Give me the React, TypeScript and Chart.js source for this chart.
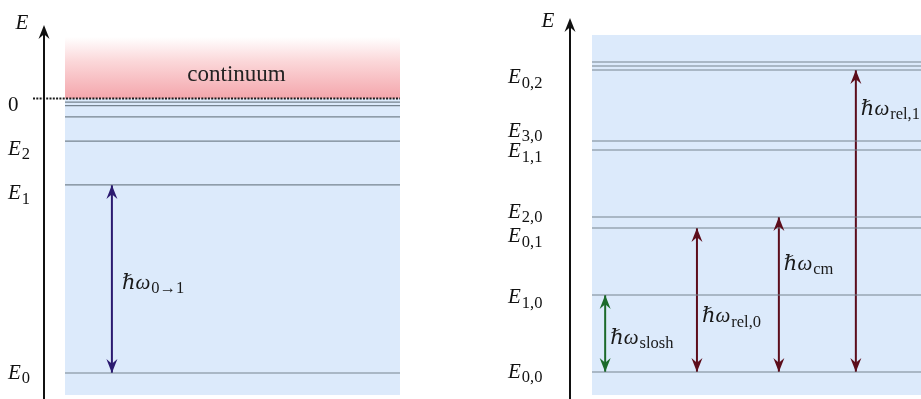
import React, { useEffect, useRef } from 'react';
import { Chart, registerables } from 'chart.js';

Chart.register(...registerables);

// ---------- Left panel (bound states + continuum) ----------
const leftLevels = [-1.0, -0.315, -0.155, -0.067, -0.026, -0.013];
const leftTickMain = ['0', 'E', 'E', 'E'];
const leftTickSub = ['', '2', '1', '0'];
const leftTickAt = [-0.02, -0.18, -0.341, -0.996];
const leftArrowX = [0.14];
const leftArrowFrom = [-1.0];
const leftArrowTo = [-0.315];
const leftArrowSub = ['0→1'];
const leftArrowLabelAt = [-0.668];
const leftArrowColor = ['#2b1a70'];
const leftBand = [-1.08, 0.224];
const continuumLabel = 'continuum';
const continuumLabelAt = 0.085;

// ---------- Right panel (trap states) ----------
const rightLevels = [0, 1.0, 1.87, 2.013, 2.883, 3.0, 3.922, 3.974, 4.026];
const rightTickMain = ['E', 'E', 'E', 'E', 'E', 'E', 'E'];
const rightTickSub = ['0,2', '3,0', '1,1', '2,0', '0,1', '1,0', '0,0'];
const rightTickAt = [3.844, 3.149, 2.883, 2.097, 1.773, 0.981, 0.019];
const rightArrowX = [0.04, 0.319, 0.568, 0.802];
const rightArrowFrom = [0, 0, 0, 0];
const rightArrowTo = [1.0, 1.87, 2.013, 3.922];
const rightArrowSub = ['slosh', 'rel,0', 'cm', 'rel,1'];
const rightArrowLabelAt = [0.455, 0.74, 1.416, 3.43];
const rightArrowColor = ['#1b6a2a', '#5c0d1b', '#5c0d1b', '#5c0d1b'];
const rightBand = [-0.299, 4.377];

const SERIF = '"Liberation Serif", "DejaVu Serif", serif';
const LEVEL_COLOR = '#76838f';
const BAND_COLOR = '#dceafb';

type PanelCfg = {
  width: number;
  padding: { left: number; right: number; top: number; bottom: number };
  yMin: number;
  yMax: number;
  levels: number[];
  tickMain: string[];
  tickSub: string[];
  tickAt: number[];
  tickX: number;
  arrowX: number[];
  arrowFrom: number[];
  arrowTo: number[];
  arrowSub: string[];
  arrowLabelAt: number[];
  arrowColor: string[];
  arrowLabelGap: number;
  band: number[];
  axisGap: number;
  axisLabelDy: number;
  continuum: boolean;
};

function drawSym(ctx: CanvasRenderingContext2D, x: number, yMid: number, main: string, sub: string, italic: boolean, color: string) {
  ctx.fillStyle = color;
  ctx.textAlign = 'left';
  ctx.textBaseline = 'alphabetic';
  ctx.font = `${italic ? 'italic ' : ''}21px ${SERIF}`;
  const base = yMid + 7;
  ctx.fillText(main, x, base);
  const w = ctx.measureText(main).width;
  if (sub) {
    ctx.font = `16.5px ${SERIF}`;
    ctx.fillText(sub, x + w + 1, base + 4.5);
  }
}

function head(ctx: CanvasRenderingContext2D, x: number, y: number, up: boolean, color: string, len = 14, hw = 5.5) {
  const s = up ? 1 : -1;
  ctx.save();
  ctx.fillStyle = color;
  ctx.beginPath();
  ctx.moveTo(x, y);
  ctx.lineTo(x - hw, y + s * len);
  ctx.lineTo(x, y + s * len * 0.66);
  ctx.lineTo(x + hw, y + s * len);
  ctx.closePath();
  ctx.fill();
  ctx.restore();
}

function buildConfig(p: PanelCfg): any {
  const datasets: any[] = [];
  p.levels.forEach((e) => {
    datasets.push({
      data: [{ x: 0, y: e }, { x: 1, y: e }],
      borderColor: LEVEL_COLOR,
      borderWidth: 1.2,
      pointRadius: 0,
      fill: false,
      tension: 0,
    });
  });
  p.arrowX.forEach((ax, i) => {
    datasets.push({
      data: [{ x: ax, y: p.arrowFrom[i] }, { x: ax, y: p.arrowTo[i] }],
      borderColor: p.arrowColor[i],
      borderWidth: 2,
      pointRadius: 0,
      fill: false,
      tension: 0,
    });
  });

  const plugin = {
    id: 'panelDeco',
    beforeDatasetsDraw(chart: any) {
      const { ctx, chartArea, scales } = chart;
      const y = scales.y;
      const left = chartArea.left;
      const right = chartArea.right;
      ctx.save();
      const top = y.getPixelForValue(p.band[1]);
      const bot = y.getPixelForValue(p.band[0]);
      ctx.fillStyle = BAND_COLOR;
      if (p.continuum) {
        const zero = y.getPixelForValue(0);
        ctx.fillRect(left, zero, right - left, bot - zero);
        const g = ctx.createLinearGradient(0, top, 0, zero);
        g.addColorStop(0, 'rgba(255,255,255,1)');
        g.addColorStop(0.4, 'rgba(251,215,217,1)');
        g.addColorStop(1, 'rgba(244,166,172,1)');
        ctx.fillStyle = g;
        ctx.fillRect(left, top, right - left, zero - top);
        ctx.fillStyle = '#222';
        ctx.font = `23px ${SERIF}`;
        ctx.textAlign = 'center';
        ctx.textBaseline = 'middle';
        ctx.fillText(continuumLabel, (left + right) / 2 + 4, y.getPixelForValue(continuumLabelAt));
      } else {
        ctx.fillRect(left, top, right - left, bot - top);
      }
      ctx.restore();
    },
    afterDatasetsDraw(chart: any) {
      const { ctx, chartArea, scales } = chart;
      const y = scales.y;
      const x = scales.x;
      ctx.save();
      if (p.continuum) {
        const zy = y.getPixelForValue(0);
        ctx.strokeStyle = '#1a1a1a';
        ctx.lineWidth = 2;
        ctx.setLineDash([2, 1.3]);
        ctx.beginPath();
        ctx.moveTo(chartArea.left - p.axisGap - 11, zy);
        ctx.lineTo(chartArea.right, zy);
        ctx.stroke();
        ctx.setLineDash([]);
      }
      p.arrowX.forEach((ax, i) => {
        const px = x.getPixelForValue(ax);
        const y1 = y.getPixelForValue(p.arrowFrom[i]);
        const y2 = y.getPixelForValue(p.arrowTo[i]);
        head(ctx, px, y2, true, p.arrowColor[i]);
        head(ctx, px, y1, false, p.arrowColor[i]);
        drawSym(ctx, px + p.arrowLabelGap, y.getPixelForValue(p.arrowLabelAt[i]), 'ℏω', p.arrowSub[i], true, '#1a1a1a');
      });
      const axX = chartArea.left - p.axisGap;
      ctx.strokeStyle = '#111';
      ctx.lineWidth = 2;
      ctx.beginPath();
      ctx.moveTo(axX, chart.height);
      ctx.lineTo(axX, chartArea.top + 6);
      ctx.stroke();
      head(ctx, axX, chartArea.top, true, '#111', 14, 5.5);
      ctx.fillStyle = '#111';
      ctx.font = `italic 21px ${SERIF}`;
      ctx.textAlign = 'center';
      ctx.textBaseline = 'alphabetic';
      ctx.fillText('E', axX - 22, chartArea.top + p.axisLabelDy + 7);
      p.tickAt.forEach((e, i) => {
        drawSym(ctx, p.tickX, y.getPixelForValue(e), p.tickMain[i], p.tickSub[i], p.tickMain[i] === 'E', '#111');
      });
      ctx.restore();
    },
  };

  return {
    type: 'line',
    data: { datasets },
    options: {
      animation: false,
      responsive: false,
      maintainAspectRatio: false,
      events: [],
      layout: { padding: p.padding },
      plugins: { legend: { display: false }, tooltip: { enabled: false } },
      scales: {
        x: { type: 'linear', min: 0, max: 1, display: false },
        y: { type: 'linear', min: p.yMin, max: p.yMax, display: false },
      },
    },
    plugins: [plugin],
  };
}

const leftPanel: PanelCfg = {
  width: 460,
  padding: { left: 65, right: 60, top: 25, bottom: 0 },
  yMin: -(399 - 98.5) / 274.5,
  yMax: (98.5 - 25) / 274.5,
  levels: leftLevels,
  tickMain: leftTickMain,
  tickSub: leftTickSub,
  tickAt: leftTickAt,
  tickX: 8,
  arrowX: leftArrowX,
  arrowFrom: leftArrowFrom,
  arrowTo: leftArrowTo,
  arrowSub: leftArrowSub,
  arrowLabelAt: leftArrowLabelAt,
  arrowColor: leftArrowColor,
  arrowLabelGap: 10,
  band: leftBand,
  axisGap: 21,
  axisLabelDy: -3,
  continuum: true,
};

const rightPanel: PanelCfg = {
  width: 461,
  padding: { left: 132, right: 0, top: 18, bottom: 0 },
  yMin: -(399 - 372) / 77,
  yMax: (372 - 18) / 77,
  levels: rightLevels,
  tickMain: rightTickMain,
  tickSub: rightTickSub,
  tickAt: rightTickAt,
  tickX: 48,
  arrowX: rightArrowX,
  arrowFrom: rightArrowFrom,
  arrowTo: rightArrowTo,
  arrowSub: rightArrowSub,
  arrowLabelAt: rightArrowLabelAt,
  arrowColor: rightArrowColor,
  arrowLabelGap: 5,
  band: rightBand,
  axisGap: 22,
  axisLabelDy: 2,
  continuum: false,
};

function Panel({ cfg }: { cfg: PanelCfg }) {
  const ref = useRef<HTMLCanvasElement>(null);
  useEffect(() => {
    const chart = new Chart(ref.current as HTMLCanvasElement, buildConfig(cfg));
    return () => chart.destroy();
  }, [cfg]);
  return (
    <canvas
      ref={ref}
      width={cfg.width}
      height={399}
      style={{ display: 'block', width: cfg.width, height: 399 }}
    />
  );
}

export default function App() {
  return (
    <div style={{ position: 'absolute', left: 0, top: 0, width: 921, height: 399, display: 'flex', background: '#fff', overflow: 'hidden' }}>
      <Panel cfg={leftPanel} />
      <Panel cfg={rightPanel} />
    </div>
  );
}
